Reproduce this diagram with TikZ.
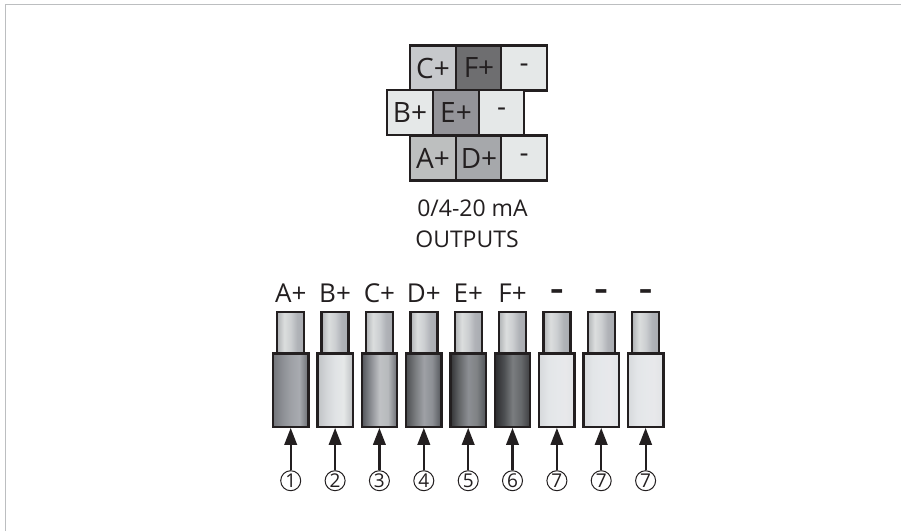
\documentclass[tikz,border=0pt]{standalone}
\usepackage{fontspec}
\setmainfont{Open Sans}
\usetikzlibrary{arrows.meta}
\definecolor{inkc}{HTML}{231F20}
\definecolor{frameg}{HTML}{BCBEC0}
\newcommand{\fivestop}[6]{%
 \pgfdeclarehorizontalshading{#1}{100bp}{%
  rgb(0bp)=(#2);rgb(25bp)=(#2);rgb(38bp)=(#3);rgb(50bp)=(#4);rgb(62bp)=(#5);rgb(75bp)=(#6);rgb(100bp)=(#6)}}
\fivestop{pinshade}{.69,.70,.71}{.86,.87,.87}{.80,.81,.82}{.69,.70,.72}{.66,.67,.69}
\fivestop{shA}{.45,.46,.48}{.55,.56,.58}{.62,.63,.65}{.66,.67,.69}{.42,.43,.45}
\fivestop{shB}{.75,.76,.77}{.83,.84,.85}{.88,.89,.90}{.90,.91,.91}{.74,.75,.76}
\fivestop{shC}{.32,.33,.35}{.55,.56,.58}{.75,.76,.77}{.72,.73,.74}{.42,.43,.45}
\fivestop{shD}{.30,.31,.32}{.48,.49,.50}{.62,.63,.65}{.55,.56,.58}{.32,.33,.35}
\fivestop{shE}{.20,.20,.21}{.40,.41,.42}{.55,.56,.58}{.50,.51,.52}{.32,.33,.35}
\fivestop{shF}{.17,.17,.18}{.30,.31,.32}{.48,.49,.50}{.40,.41,.42}{.24,.24,.25}
\fivestop{shN}{.84,.85,.86}{.89,.90,.91}{.90,.91,.92}{.91,.91,.92}{.88,.89,.90}
\tikzset{
  cellbox/.style={draw=inkc,line width=2.4pt,minimum height=45pt,inner sep=0pt,text=inkc,
    font=\fontsize{28}{30}\selectfont},
  cellw/.style={cellbox,minimum width=45.5pt},
  pinbox/.style={draw=inkc,line width=2.4pt,minimum width=27pt,minimum height=41.3pt,inner sep=0pt,shading=pinshade},
  bodybox/.style={draw=inkc,line width=2.4pt,minimum width=35.4pt,minimum height=73.4pt,inner sep=0pt},
  toplabel/.style={anchor=base,text=inkc,font=\fontsize{26}{30}\selectfont,inner sep=0pt},
  dashlabel/.style={text=inkc,font=\fontsize{30}{32}\bfseries\selectfont,inner sep=0pt,xscale=1.35},
  caption/.style={anchor=base,text=inkc,font=\fontsize{23}{28}\selectfont,inner sep=0pt},
  numcirc/.style={circle,draw=inkc,line width=1pt,minimum size=20pt,inner sep=0pt,text=inkc,
    font=\fontsize{19}{20}\selectfont},
  pointer/.style={draw=inkc,line width=2.2pt,-{Triangle[width=12.5pt,length=17pt]},shorten >=0pt},
  frameline/.style={draw=frameg,line width=1.5pt}
}
\begin{document}
\begin{tikzpicture}[x=1pt,y=-1pt]
\useasboundingbox (0,0) rectangle (901,531);
\path[fill=white] (0,0) rectangle (901,531);
\coordinate (frameA) at (5.5,531);
\coordinate (frameB) at (5.5,4.5);
\coordinate (frameC) at (901,4.5);
\draw[frameline] (frameA) -- (frameB) -- (frameC);
% terminal block
\node[cellw,fill={rgb,1:red,.78;green,.79;blue,.80}] (cC) at (433,68) {\raisebox{-2pt}{C+}};
\node[cellw,fill={rgb,1:red,.43;green,.43;blue,.44}] (cF) at (479,68) {\raisebox{-2pt}{F+}};
\node[cellw,fill={rgb,1:red,.90;green,.91;blue,.91}] (cM1) at (524,68) {-};
\node[cellw,fill={rgb,1:red,.90;green,.91;blue,.91}] (cB) at (410,112.7) {\raisebox{-2pt}{B+}};
\node[cellw,fill={rgb,1:red,.58;green,.58;blue,.60}] (cE) at (456,112.7) {\raisebox{-2pt}{E+}};
\node[cellw,fill={rgb,1:red,.90;green,.91;blue,.91}] (cM2) at (501.5,112.7) {-};
\node[cellw,fill={rgb,1:red,.74;green,.75;blue,.75}] (cA) at (433,158) {\raisebox{-1pt}{A+}};
\node[cellw,fill={rgb,1:red,.65;green,.66;blue,.67}] (cD) at (479,158) {\raisebox{-1pt}{D+}};
\node[cellw,fill={rgb,1:red,.90;green,.91;blue,.91}] (cM3) at (524,158) {-};
\node[caption] (capA) at (472.5,216.7) {0/4-20 mA};
\node[caption] (capB) at (467,247) {OUTPUTS};
% connectors
\foreach \i/\px/\sh/\lab/\num in {
  1/290.7/shA/A+/1, 2/335.1/shB/B+/2, 3/379.4/shC/C+/3, 4/423.8/shD/D+/4,
  5/468.2/shE/E+/5, 6/512.5/shF/F+/6}{
  \node[toplabel] (lab\i) at (\px,302) {\lab};
  \node[pinbox] (pin\i) at (\px,332.6) {};
  \node[bodybox,shading=\sh] (body\i) at (\px,390) {};
  \node[numcirc] (num\i) at (\px,480.7) {\num};
  \draw[pointer] (num\i.north) -- (body\i.south);
}
\foreach \i/\px in {7/556.9, 8/601.2, 9/645.6}{
  \node[dashlabel] (lab\i) at (\px,295) {-};
  \node[pinbox] (pin\i) at (\px,332.6) {};
  \node[bodybox,shading=shN] (body\i) at (\px,390) {};
  \node[numcirc] (num\i) at (\px,480.7) {7};
  \draw[pointer] (num\i.north) -- (body\i.south);
}
\end{tikzpicture}
\end{document}
